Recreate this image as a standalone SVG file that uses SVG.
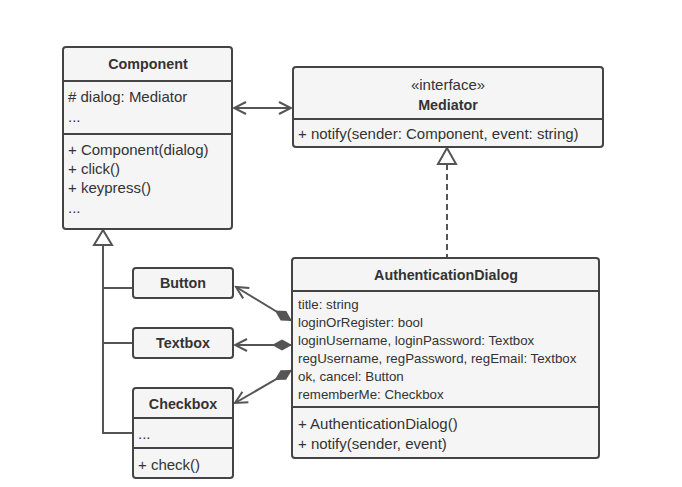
<svg xmlns="http://www.w3.org/2000/svg" width="682" height="487" viewBox="0 0 682 487">
<style>
.box{fill:#f5f5f5;stroke:#444;stroke-width:2}
.sep{stroke:#444;stroke-width:2}
.t{font-family:"Liberation Sans",Arial,sans-serif;font-size:15px;fill:#333}
.s{font-size:13.3px}
.b{font-family:"Liberation Sans",Arial,sans-serif;font-size:14.3px;font-weight:bold;fill:#333;text-anchor:middle}
.c{text-anchor:middle}
.ln{stroke:#555;stroke-width:2;fill:none}
</style>
<defs>
<marker id="open" viewBox="-14 -8 16 16" refX="0" refY="0" markerWidth="16" markerHeight="16" markerUnits="userSpaceOnUse" orient="auto-start-reverse">
<path d="M-12,-6 L0,0 L-12,6" fill="none" stroke="#555" stroke-width="2"/>
</marker>
<marker id="dia" viewBox="0 -6 20 12" refX="0" refY="0" markerWidth="20" markerHeight="12" markerUnits="userSpaceOnUse" orient="auto">
<path d="M0,0 L10,-5.5 L20,0 L10,5.5 Z" fill="#555"/>
</marker>
</defs>
<rect width="682" height="487" fill="#fff"/>
<g id="connectors">
<line class="ln" x1="234" y1="108" x2="291" y2="108" marker-start="url(#open)" marker-end="url(#open)"/>
<line class="ln" x1="447" y1="164" x2="447" y2="257" stroke-dasharray="6,4"/>
<path d="M447,148 L438,164 L456,164 Z" fill="#fff" stroke="#555" stroke-width="2"/>
<path class="ln" d="M103,245 V433 H133 M103,288 H133 M103,343 H133"/>
<path d="M103,230 L94,245 L112,245 Z" fill="#fff" stroke="#555" stroke-width="2"/>
<line class="ln" x1="292" y1="321" x2="236" y2="287" marker-start="url(#dia)" marker-end="url(#open)"/>
<line class="ln" x1="292" y1="345" x2="235" y2="345" marker-start="url(#dia)" marker-end="url(#open)"/>
<line class="ln" x1="292" y1="370" x2="235" y2="403" marker-start="url(#dia)" marker-end="url(#open)"/>
</g>
<g id="component">
<rect class="box" x="63" y="47" width="169" height="182" rx="3"/>
<line class="sep" x1="63" y1="81" x2="232" y2="81"/>
<line class="sep" x1="63" y1="134" x2="232" y2="134"/>
<text class="b" x="148" y="69">Component</text>
<text class="t" x="68" y="102"># dialog: Mediator</text>
<text class="t" x="68" y="122">...</text>
<text class="t" x="68" y="155">+ Component(dialog)</text>
<text class="t" x="68" y="174">+ click()</text>
<text class="t" x="68" y="193">+ keypress()</text>
<text class="t" x="68" y="213">...</text>
</g>
<g id="mediator">
<rect class="box" x="293" y="67" width="310" height="80" rx="3"/>
<line class="sep" x1="293" y1="119" x2="603" y2="119"/>
<text class="t c" x="448" y="90">«interface»</text>
<text class="b" x="448" y="110">Mediator</text>
<text class="t" x="298" y="139">+ notify(sender: Component, event: string)</text>
</g>
<g id="authdialog">
<rect class="box" x="292" y="258" width="307" height="200" rx="3"/>
<line class="sep" x1="292" y1="291" x2="599" y2="291"/>
<line class="sep" x1="292" y1="407" x2="599" y2="407"/>
<text class="b" x="446" y="280">AuthenticationDialog</text>
<text class="t s" x="298" y="309">title: string</text>
<text class="t s" x="298" y="327">loginOrRegister: bool</text>
<text class="t s" x="298" y="345">loginUsername, loginPassword: Textbox</text>
<text class="t s" x="298" y="363">regUsername, regPassword, regEmail: Textbox</text>
<text class="t s" x="298" y="381">ok, cancel: Button</text>
<text class="t s" x="298" y="399">rememberMe: Checkbox</text>
<text class="t" x="298" y="429">+ AuthenticationDialog()</text>
<text class="t" x="298" y="449">+ notify(sender, event)</text>
</g>
<g id="button">
<rect class="box" x="133" y="268" width="100" height="30" rx="3"/>
<text class="b" x="183" y="288">Button</text>
</g>
<g id="textbox">
<rect class="box" x="133" y="328" width="100" height="30" rx="3"/>
<text class="b" x="183" y="348">Textbox</text>
</g>
<g id="checkbox">
<rect class="box" x="133" y="388" width="100" height="90" rx="3"/>
<line class="sep" x1="133" y1="418" x2="233" y2="418"/>
<line class="sep" x1="133" y1="448" x2="233" y2="448"/>
<text class="b" x="183" y="409">Checkbox</text>
<text class="t" x="138" y="439">...</text>
<text class="t" x="138" y="470">+ check()</text>
</g>
</svg>
